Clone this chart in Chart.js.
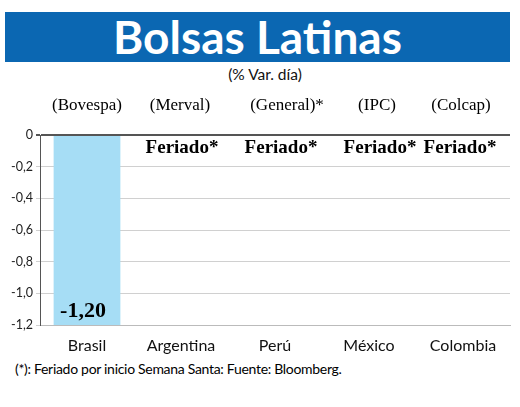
<!DOCTYPE html>
<html>
<head>
<meta charset="utf-8">
<script src="https://cdn.jsdelivr.net/npm/chart.js@4/dist/chart.umd.min.js"></script>
<style>
  body { margin: 0; background: #fff; width: 520px; height: 407px; overflow: hidden; position: relative; }
  #banner { position: absolute; left: 5px; top: 12px; width: 505px; height: 50px; background: #0b67b2;
            color: #fff; font: bold 46px Lato, sans-serif; text-align: center; line-height: 50px; }
  #sub { position: absolute; left: 0; top: 65px; width: 530px; text-align: center; font: 15.5px Lato, sans-serif; color: #111; }
  #note { position: absolute; left: 15px; top: 360px; font: 14px Lato, sans-serif; color: #000;
          white-space: nowrap; letter-spacing: -0.3px; }
  canvas { position: absolute; left: 0; top: 0; }
</style>
</head>
<body>
<div id="banner">Bolsas Latinas</div>
<div id="sub">(% Var. día)</div>
<div id="note">(*): Feriado por inicio Semana Santa: Fuente: Bloomberg.</div>
<canvas id="grafica" width="520" height="407"></canvas>
<script>
// datos
var paises = ['Brasil', 'Argentina', 'Perú', 'México', 'Colombia'];
var indices = ['(Bovespa)', '(Merval)', '(General)*', '(IPC)', '(Colcap)'];
var variacion = [-1.20, null, null, null, null];
var etiquetaSinDato = 'Feriado*';
var ticksY = [0, -0.2, -0.4, -0.6, -0.8, -1.0, -1.2];

function coma(v, d) { return v === 0 ? '0' : v.toFixed(d).replace('.', ','); }

var textos = {
  id: 'textos',
  afterDatasetsDraw: function(chart) {
    var ctx = chart.ctx, x = chart.scales.x, y = chart.scales.y;
    var nudgeHead = [0, -1, 12, 8, -2];
    var nudgeFer = [0, 1, 6, 11, -3];
    ctx.save();
    ctx.textAlign = 'center';
    ctx.fillStyle = '#000';
    for (var i = 0; i < paises.length; i++) {
      var cx = x.getPixelForValue(i);
      ctx.font = '17px "Liberation Serif", serif';
      ctx.textBaseline = 'middle';
      ctx.fillText(indices[i], cx + nudgeHead[i], 106);
      ctx.font = 'bold 19px "Liberation Serif", serif';
      if (variacion[i] === null) {
        ctx.textBaseline = 'top';
        ctx.fillText(etiquetaSinDato, cx + nudgeFer[i], y.getPixelForValue(0) + 4);
      } else {
        ctx.textBaseline = 'bottom';
        ctx.font = 'bold 22px "Liberation Serif", serif';
        ctx.fillText(coma(variacion[i], 2), cx - 4, y.getPixelForValue(variacion[i]) - 3);
      }
    }
    ctx.restore();
  }
};

new Chart(document.getElementById('grafica'), {
  type: 'bar',
  data: {
    labels: paises,
    datasets: [{
      data: variacion,
      backgroundColor: '#a6ddf5',
      barPercentage: 0.71,
      categoryPercentage: 1
    }]
  },
  options: {
    responsive: false,
    animation: false,
    layout: { padding: { top: 135, left: 5, right: 10, bottom: 52 } },
    plugins: { legend: { display: false }, tooltip: { enabled: false } },
    scales: {
      x: {
        grid: { display: false },
        border: { display: true, color: '#bbb' },
        ticks: { color: '#111', font: { family: 'Lato', size: 16 }, padding: 3 },
        afterFit: function(s) { s.height = 30; }
      },
      y: {
        min: -1.2, max: 0,
        afterBuildTicks: function(s) { s.ticks = ticksY.map(function(v) { return { value: v }; }); },
        ticks: {
          color: '#222', font: { family: 'Lato', size: 12.5 }, padding: 3,
          callback: function(v) { return coma(v, 1); }
        },
        grid: {
          color: function(c) { return c.tick && c.tick.value === 0 ? '#555' : '#d0d0d0'; },
          lineWidth: function(c) { return c.tick && c.tick.value === 0 ? 2 : 1; },
          tickLength: 4
        },
        border: { color: '#555' },
        afterFit: function(s) { s.width = 35; }
      }
    }
  },
  plugins: [textos]
});
</script>
</body>
</html>
